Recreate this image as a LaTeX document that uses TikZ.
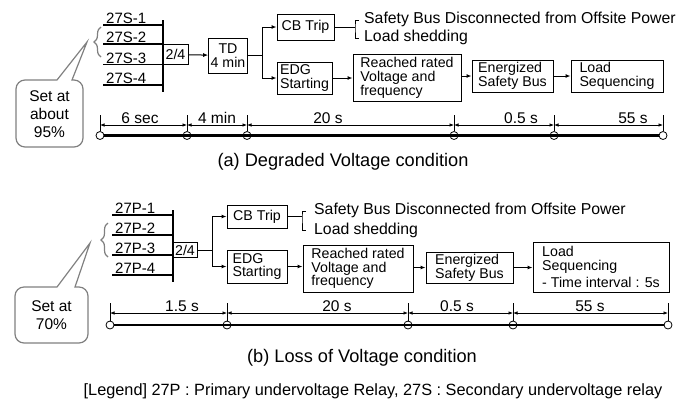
\documentclass[tikz,border=0pt]{standalone}
\usepackage{fontspec}
\setmainfont{Liberation Sans}
\usepackage{tikz}
\usetikzlibrary{arrows.meta, positioning, calc, decorations.pathreplacing}

\begin{document}
\begin{tikzpicture}[
        x=1pt, y=-1pt,
        box/.style={draw, rectangle, line width=0.9pt, align=left, inner sep=2pt, font=\fontsize{14.2}{13.8}\selectfont},
        arrow/.style={-{Latex[length=5pt, width=4pt]}, line width=1pt},
        relay/.style={line width=1.3pt},
        lbl/.style={inner sep=1pt, font=\fontsize{15}{15}\selectfont},
        side/.style={anchor=west, inner sep=0pt, font=\fontsize{15.8}{15}\selectfont},
        dim/.style={{Latex[length=4.5pt, width=3.5pt]}-{Latex[length=4.5pt, width=3.5pt]}, line width=0.7pt},
        dimlbl/.style={anchor=south, inner sep=1pt, font=\fontsize{15.5}{15}\selectfont},
        tick/.style={line width=0.8pt},
        timeline/.style={line width=2.4pt},
        event/.style={circle, draw, line width=0.8pt, fill=white, minimum size=8pt, inner sep=0pt},
        callout/.style={draw=gray, line width=1.2pt},
        bracebar/.style={draw=gray, line width=1.2pt, decorate, decoration={brace, amplitude=7pt}},
        calltxt/.style={align=center, font=\fontsize{15.5}{18}\selectfont},
        caption/.style={font=\fontsize{18.2}{18}\selectfont}
    ]
        \useasboundingbox (0,0) rectangle (676,400);

        % (a) Relays 27S
        \coordinate (bara) at (163,20);
        \coordinate (barab) at (163,92);
        \draw[relay] (bara) -- (barab);
        \coordinate (ina1) at (103,25);
        \coordinate (ina2) at (103,44);
        \coordinate (ina3) at (103,64.5);
        \coordinate (ina4) at (103,85);
        \node[lbl, above right=0pt and 2pt of ina1] (s1) {27S-1};
        \node[lbl, above right=0pt and 2pt of ina2] (s2) {27S-2};
        \node[lbl, above right=0pt and 2pt of ina3] (s3) {27S-3};
        \node[lbl, above right=0pt and 2pt of ina4] (s4) {27S-4};
        \draw[relay] (ina1) -- (ina1 -| bara);
        \draw[relay] (ina2) -- (ina2 -| bara);
        \draw[relay] (ina3) -- (ina3 -| bara);
        \draw[relay] (ina4) -- (ina4 -| bara);

        % (a) Logic and sequence
        \node[box, minimum width=25pt, minimum height=20pt] (twoa) at (175.5,54.5) {2/4};
        \node[box, align=center, minimum width=38pt, minimum height=35pt] (tda) at (228,55.5) {TD\\4 min};
        \node[box, minimum width=57pt, minimum height=26pt] (cba) at (305.5,27) {CB Trip};
        \node[box, minimum width=55pt, minimum height=32pt] (edga) at (304.5,78) {EDG\\Starting};
        \node[box, minimum width=108pt, minimum height=47pt] (reacheda) at (407,78) {Reached rated\\Voltage and\\frequency};
        \node[box, minimum width=81pt, minimum height=32pt] (energa) at (512.5,76) {Energized\\Safety Bus};
        \node[box, minimum width=92pt, minimum height=32pt] (loada) at (617,76) {Load\\Sequencing};

        \draw[arrow] (twoa) -- (tda);
        \coordinate (forka) at (262,55.5);
        \draw[relay, line width=1pt] (tda.east) -- (forka);
        \draw[arrow] (forka) |- (cba.west);
        \draw[arrow] (forka) |- (edga.west);
        \draw[arrow] (edga.east) -- (edga.east -| reacheda.west);
        \draw[arrow] (reacheda.east |- energa.west) -- (energa.west);
        \draw[arrow] (energa) -- (loada);

        % (a) CB Trip results
        \coordinate (bra) at (355,27);
        \coordinate (brat) at (359,20);
        \coordinate (brab) at (359,38);
        \draw[line width=1pt] (cba.east) -- (bra);
        \draw[line width=1pt] (brat) -| (bra) |- (brab);
        \node[side] (offa) at (364,19) {Safety Bus Disconnected from Offsite Power};
        \node[side] (sheda) at (364,37) {Load shedding};

        % (a) Callout
        \draw[callout] (57,80) [sharp corners] -- (87,42) -- (72,80) [rounded corners=9pt] -- (83,80) -- (83,147) -- (16,147) -- (16,80) -- (57,80);
        \draw[bracebar] (101,57) -- (101,27);
        \node[calltxt] (seta) at (49.5,114) {Set at\\about\\95\%};

        % (a) Time line
        \node[event] (ta0) at (100,135.5) {};
        \node[event] (ta1) at (187,135.5) {};
        \node[event] (ta2) at (247,135.5) {};
        \node[event] (ta3) at (454,135.5) {};
        \node[event] (ta4) at (554,135.5) {};
        \node[event] (ta5) at (663,135.5) {};
        \draw[timeline] (ta0.east) -- (ta5.west);
        \coordinate (tka) at (0,115);
        \coordinate (dma) at (0,125);
        \draw[tick] (ta0 |- tka) -- (ta0.north);
        \draw[tick] (ta1 |- tka) -- (ta1.north);
        \draw[tick] (ta2 |- tka) -- (ta2.north);
        \draw[tick] (ta3 |- tka) -- (ta3.north);
        \draw[tick] (ta4 |- tka) -- (ta4.north);
        \draw[tick] (ta5 |- tka) -- (ta5.north);
        \draw[dim] (ta0 |- dma) -- (ta1 |- dma);
        \draw[dim] (ta1 |- dma) -- (ta2 |- dma);
        \draw[dim] (ta2 |- dma) -- (ta3 |- dma);
        \draw[dim] (ta3 |- dma) -- (ta4 |- dma);
        \draw[dim] (ta4 |- dma) -- (ta5 |- dma);
        \node[dimlbl] (da1) at (140,125) {6 sec};
        \node[dimlbl] (da2) at (217,125) {4 min};
        \node[dimlbl] (da3) at (328,125) {20 s};
        \node[dimlbl] (da4) at (521,125) {0.5 s};
        \node[dimlbl] (da5) at (633,125) {55 s};

        \node[caption] (capa) at (343,162) {(a) Degraded Voltage condition};

        % (b) Relays 27P
        \coordinate (barb) at (173,210);
        \coordinate (barbb) at (173,282);
        \draw[relay] (barb) -- (barbb);
        \coordinate (inb1) at (112,215);
        \coordinate (inb2) at (112,235);
        \coordinate (inb3) at (112,255);
        \coordinate (inb4) at (112,275);
        \node[lbl, above right=0pt and 2pt of inb1] (p1) {27P-1};
        \node[lbl, above right=0pt and 2pt of inb2] (p2) {27P-2};
        \node[lbl, above right=0pt and 2pt of inb3] (p3) {27P-3};
        \node[lbl, above right=0pt and 2pt of inb4] (p4) {27P-4};
        \draw[relay] (inb1) -- (inb1 -| barb);
        \draw[relay] (inb2) -- (inb2 -| barb);
        \draw[relay] (inb3) -- (inb3 -| barb);
        \draw[relay] (inb4) -- (inb4 -| barb);

        % (b) Logic and sequence
        \node[box, minimum width=24pt, minimum height=15pt] (twob) at (185,250) {2/4};
        \node[box, minimum width=60pt, minimum height=23pt] (cbb) at (257,216.5) {CB Trip};
        \node[box, minimum width=60pt, minimum height=33pt] (edgb) at (257,266.5) {EDG\\Starting};
        \node[box, minimum width=110pt, minimum height=47pt] (reachedb) at (358,268.5) {Reached rated\\Voltage and\\frequency};
        \node[box, minimum width=87pt, minimum height=31pt] (energb) at (469.5,267.5) {Energized\\Safety Bus};
        \node[box, minimum width=136pt, minimum height=50pt] (loadb) at (601,267) {Load\\Sequencing\\[3pt]- Time interval : 5s};

        \coordinate (forkb) at (212,250);
        \draw[relay, line width=1pt] (twob.east) -- (forkb);
        \draw[arrow] (forkb) |- (cbb.west);
        \draw[arrow] (forkb) |- (edgb.west);
        \draw[arrow] (edgb.east) -- (edgb.east -| reachedb.west);
        \draw[arrow] (reachedb.east |- energb.west) -- (energb.west);
        \draw[arrow] (energb) -- (energb -| loadb.west);

        % (b) CB Trip results
        \coordinate (brb) at (302,216.5);
        \coordinate (brbt) at (306,211);
        \coordinate (brbb) at (306,230);
        \draw[line width=1pt] (cbb.east) -- (brb);
        \draw[line width=1pt] (brbt) -| (brb) |- (brbb);
        \node[side] (offb) at (314,210) {Safety Bus Disconnected from Offsite Power};
        \node[side] (shedb) at (314,230) {Load shedding};

        % (b) Callout
        \draw[callout] (57,287) [sharp corners] -- (90,243) -- (75,287) [rounded corners=9pt] -- (88,287) -- (88,343) -- (15,343) -- (15,287) -- (57,287);
        \draw[bracebar] (108,257) -- (108,223);
        \node[calltxt] (setb) at (51.5,315) {Set at\\70\%};

        % (b) Time line
        \node[event] (tb0) at (110,325) {};
        \node[event] (tb1) at (227,325) {};
        \node[event] (tb2) at (408,325) {};
        \node[event] (tb3) at (513,325) {};
        \node[event] (tb4) at (668,325) {};
        \draw[timeline] (tb0.east) -- (tb4.west);
        \coordinate (tkb) at (0,303);
        \coordinate (dmb) at (0,313);
        \draw[tick] (tb0 |- tkb) -- (tb0.north);
        \draw[tick] (tb1 |- tkb) -- (tb1.north);
        \draw[tick] (tb2 |- tkb) -- (tb2.north);
        \draw[tick] (tb3 |- tkb) -- (tb3.north);
        \draw[tick] (tb4 |- tkb) -- (tb4.north);
        \draw[dim] (tb0 |- dmb) -- (tb1 |- dmb);
        \draw[dim] (tb1 |- dmb) -- (tb2 |- dmb);
        \draw[dim] (tb2 |- dmb) -- (tb3 |- dmb);
        \draw[dim] (tb3 |- dmb) -- (tb4 |- dmb);
        \node[dimlbl] (db1) at (182,313) {1.5 s};
        \node[dimlbl] (db2) at (337,313) {20 s};
        \node[dimlbl] (db3) at (457,313) {0.5 s};
        \node[dimlbl] (db4) at (590,313) {55 s};

        \node[caption] (capb) at (362,358) {(b) Loss of Voltage condition};

        % Legend
        \node[font=\fontsize{16.3}{16}\selectfont] (legend) at (373,391) {[Legend] 27P : Primary undervoltage Relay, 27S : Secondary undervoltage relay};
    \end{tikzpicture}
\end{document}
